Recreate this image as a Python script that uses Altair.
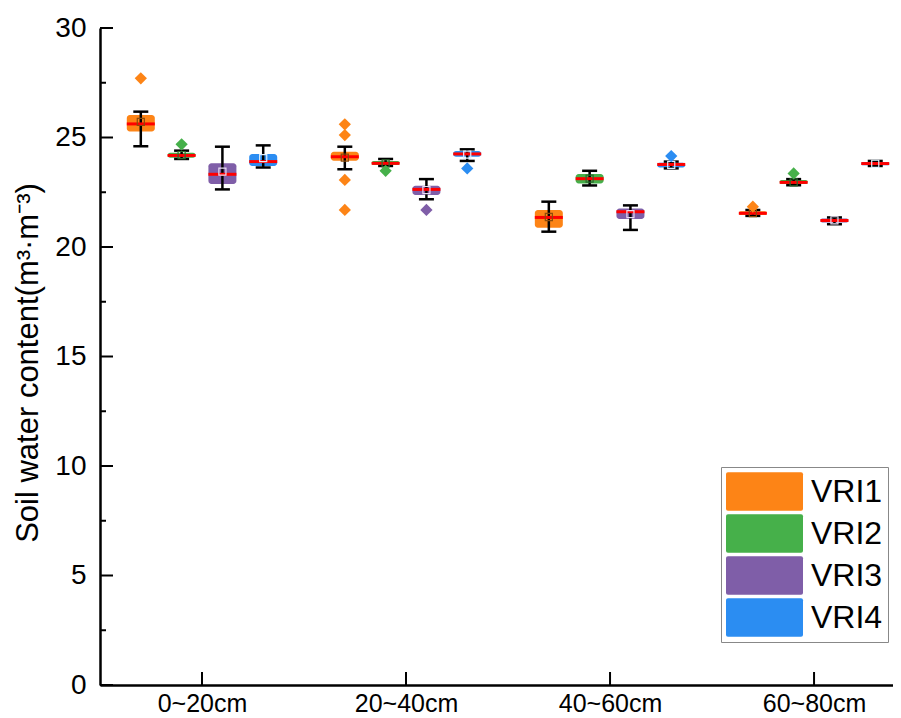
import altair as alt
import pandas as pd

depths = ["0~20cm", "20~40cm", "40~60cm", "60~80cm"]
series = ["VRI1", "VRI2", "VRI3", "VRI4"]
colors = ["#FD8416", "#46B04A", "#7F5EA8", "#2B8DF2"]
mean_colors = ["#8B4A0A", "#2D6B2F", "#E8DDF2", "#E0F0FF"]

# box statistics, depth-major order (depth x series)
whisker_low = [24.60, 24.02, 22.63, 23.63,
               23.55, 23.70, 22.18, 23.93,
               20.70, 22.81, 20.78, 23.59,
               21.42, 22.82, 21.04, 23.70]
q1 = [25.27, 24.07, 22.88, 23.70,
      23.94, 23.74, 22.37, 24.12,
      20.88, 22.90, 21.28, 23.63,
      21.46, 22.88, 21.12, 23.73]
median = [25.62, 24.18, 23.32, 23.90,
          24.12, 23.82, 22.63, 24.25,
          21.35, 23.12, 21.61, 23.77,
          21.54, 22.95, 21.21, 23.81]
q3 = [26.03, 24.30, 23.82, 24.25,
      24.35, 23.93, 22.80, 24.38,
      21.69, 23.33, 21.76, 23.85,
      21.63, 23.06, 21.30, 23.88]
whisker_high = [26.18, 24.40, 24.58, 24.64,
                24.58, 24.02, 23.10, 24.46,
                22.07, 23.48, 21.90, 23.90,
                21.69, 23.10, 21.35, 23.93]
mean = [25.71, 24.20, 23.44, 24.06,
        24.08, 23.82, 22.60, 24.22,
        21.37, 23.12, 21.50, 23.75,
        21.55, 22.95, 21.22, 23.80]

outlier_depth = ["0~20cm", "0~20cm", "20~40cm", "20~40cm", "20~40cm", "20~40cm",
                 "20~40cm", "20~40cm", "20~40cm", "40~60cm", "60~80cm", "60~80cm"]
outlier_series = ["VRI1", "VRI2", "VRI1", "VRI1", "VRI1", "VRI1",
                  "VRI2", "VRI3", "VRI4", "VRI4", "VRI1", "VRI2"]
outlier_value = [27.70, 24.69, 25.60, 25.11, 23.06, 21.69,
                 23.48, 21.69, 23.59, 24.15, 21.84, 23.36]

y_major = [0, 5, 10, 15, 20, 25, 30]
y_minor = [2.5, 7.5, 12.5, 17.5, 22.5, 27.5]

W, H = 793, 657
GAP = 0.2  # spacing between series within a depth group (in group units)

rows = []
for di, d in enumerate(depths):
    for si, s in enumerate(series):
        k = di * 4 + si
        rows.append(dict(depth=d, series=s, di=di, si=si,
                         wlo=whisker_low[k], q1=q1[k], med=median[k],
                         q3=q3[k], whi=whisker_high[k], mean=mean[k]))
box_df = pd.DataFrame(rows)
box_df["pos"] = box_df["di"] + (box_df["si"] - 1.5) * GAP

out_df = pd.DataFrame(dict(depth=outlier_depth, series=outlier_series, value=outlier_value))
out_df["pos"] = out_df["depth"].map(depths.index) + (out_df["series"].map(series.index) - 1.5) * GAP

xs = alt.Scale(domain=[-0.5, 3.387], nice=False, zero=False, padding=0)
ys = alt.Scale(domain=[0, 30], nice=False, zero=True, padding=0)

label_expr = "[" + ",".join("'%s'" % d for d in depths) + "][datum.value]"

x_axis = alt.Axis(values=[0, 1, 2, 3], labelExpr=label_expr, title=None, grid=False,
                  ticks=False, domainColor="black", domainWidth=2.5,
                  labelFont="Liberation Sans", labelFontSize=25, labelColor="black",
                  labelPadding=6)
y_axis = alt.Axis(values=y_major, title="Soil water content(m³·m⁻³)", grid=False,
                  ticks=False, domainColor="black", domainWidth=2.5,
                  labelFont="Liberation Sans", labelFontSize=28, labelColor="black",
                  labelPadding=14,
                  titleFont="Liberation Sans", titleFontSize=31, titleFontWeight="normal",
                  titleColor="black", titleAngle=-90, titleX=-63, titleY=H / 2 + 6,
                  titleAlign="center", titleBaseline="alphabetic")


def X(field):
    return alt.X(field, type="quantitative", scale=xs, axis=x_axis)


def Y(field):
    return alt.Y(field, type="quantitative", scale=ys, axis=y_axis)


base = alt.Chart(box_df)

ytick_major = alt.Chart(pd.DataFrame({"v": y_major})).mark_rule(color="black", strokeWidth=2).encode(
    y=Y("v"), x=alt.value(0), x2=alt.value(13))
ytick_minor = alt.Chart(pd.DataFrame({"v": y_minor})).mark_rule(color="black", strokeWidth=2).encode(
    y=Y("v"), x=alt.value(0), x2=alt.value(6))
xtick = alt.Chart(pd.DataFrame({"pos": [0, 1, 2, 3]})).mark_rule(color="black", strokeWidth=2).encode(
    x=X("pos"), y=alt.value(H), y2=alt.value(H - 13))

whisk = base.mark_rule(color="black", strokeWidth=2.5).encode(
    x=X("pos"), y=Y("wlo"), y2="whi:Q")
cap_lo = base.mark_tick(orient="horizontal", size=15, thickness=2.5, color="black", opacity=1).encode(
    x=X("pos"), y=Y("wlo"))
cap_hi = base.mark_tick(orient="horizontal", size=15, thickness=2.5, color="black", opacity=1).encode(
    x=X("pos"), y=Y("whi"))

legend_shape = ("M-0.95,-0.5H0.95Q1,-0.5,1,-0.45V0.45Q1,0.5,0.95,0.5H-0.95"
                "Q-1,0.5,-1,0.45V-0.45Q-1,-0.5,-0.95,-0.5Z")
boxes = base.mark_bar(size=28, cornerRadius=3, opacity=1).encode(
    x=X("pos"),
    y=Y("q1"),
    y2="q3:Q",
    color=alt.Color("series:N", scale=alt.Scale(domain=series, range=colors),
                    legend=alt.Legend(title=None, orient="none", legendX=621, legendY=439,
                                      direction="vertical", columns=1,
                                      symbolType=legend_shape, symbolSize=5929,
                                      symbolStrokeWidth=0, symbolOpacity=1,
                                      clipHeight=39, rowPadding=3, padding=5,
                                      labelFont="Liberation Sans", labelFontSize=32,
                                      labelColor="black", labelOffset=8,
                                      strokeColor="#888888", fillColor="white")))
med = base.mark_tick(orient="horizontal", size=28, thickness=3, color="#FF0000", opacity=1).encode(
    x=X("pos"), y=Y("med"))
mean_pts = base.mark_point(shape="square", size=50, filled=False, strokeWidth=1.2, opacity=1).encode(
    x=X("pos"), y=Y("mean"),
    stroke=alt.Stroke("series:N", scale=alt.Scale(domain=series, range=mean_colors), legend=None))
outl = alt.Chart(out_df).mark_point(shape="diamond", size=150, filled=True, opacity=1).encode(
    x=X("pos"), y=Y("value"),
    fill=alt.Fill("series:N", scale=alt.Scale(domain=series, range=colors), legend=None))

chart = alt.layer(boxes, ytick_major, ytick_minor, xtick, whisk, cap_lo, cap_hi, med, mean_pts, outl).properties(
    width=W, height=H,
    autosize=alt.AutoSizeParams(type="none"),
    padding={"left": 92, "top": 20, "right": 0, "bottom": 33},
    background="white",
).configure_view(stroke=None)

chart.save("out.html", embed_options={"renderer": "svg", "actions": False})
